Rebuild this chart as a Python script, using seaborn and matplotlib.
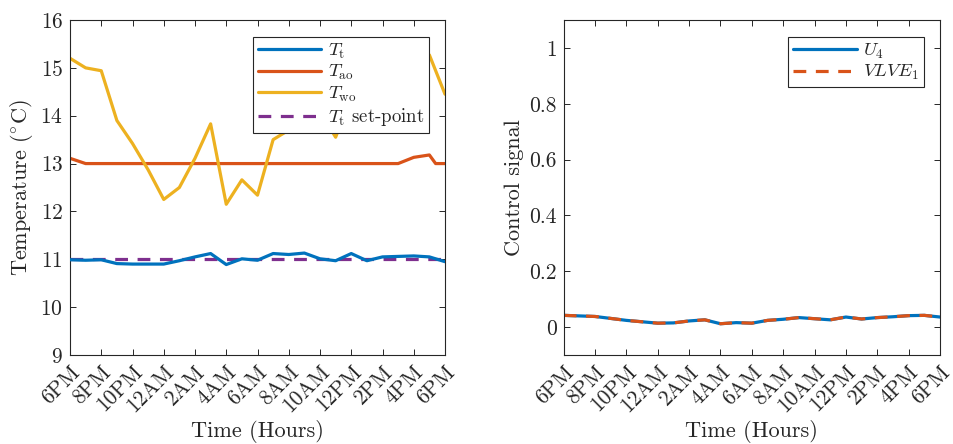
import numpy as np
import pandas as pd
import matplotlib
matplotlib.use("Agg")
import matplotlib.pyplot as plt
import seaborn as sns

# ---------------- data ----------------
hours = list(range(25))
tick_hours = list(range(0, 25, 2))
tick_labels = ["6PM", "8PM", "10PM", "12AM", "2AM", "4AM", "6AM", "8AM",
               "10AM", "12PM", "2PM", "4PM", "6PM"]

T_t = [10.99, 10.98, 10.99, 10.91, 10.90, 10.90, 10.90, 10.97, 11.05, 11.12,
       10.89, 11.01, 10.98, 11.12, 11.10, 11.13, 11.01, 10.97, 11.12, 10.97,
       11.05, 11.06, 11.07, 11.05, 10.95]

T_ao_hours = [0, 1, 2, 4, 8, 12, 16, 20, 21, 22, 23, 23.4, 24]
T_ao = [13.11, 13.0, 13.0, 13.0, 13.0, 13.0, 13.0, 13.0, 13.0, 13.13, 13.18, 13.0, 13.0]

T_wo = [15.20, 15.00, 14.94, 13.90, 13.42, 12.87, 12.25, 12.50, 13.11, 13.83,
        12.15, 12.66, 12.34, 13.50, 13.70, 14.00, 14.10, 13.55, 14.40, 14.80,
        15.00, 15.20, 15.10, 15.27, 14.45]

setpoint_hours = [0, 24]
T_setpoint = [11.0, 11.0]

U4 = [0.042, 0.040, 0.038, 0.031, 0.024, 0.019, 0.014, 0.015, 0.022, 0.026,
      0.012, 0.016, 0.014, 0.024, 0.028, 0.034, 0.030, 0.026, 0.036, 0.029,
      0.034, 0.037, 0.041, 0.042, 0.036]
VLVE1 = list(U4)

# ---------------- style ----------------
sns.set_style("ticks")
plt.rcParams["font.family"] = ["serif"]
plt.rcParams["font.serif"] = ["cmr10", "DejaVu Serif"]
plt.rcParams["mathtext.fontset"] = "cm"
plt.rcParams["axes.formatter.use_mathtext"] = True
plt.rcParams["axes.unicode_minus"] = False

blue = "#0072BD"
orange = "#D95319"
yellow = "#EDB120"
purple = "#7E2F8E"
axcol = "#262626"
lw = 2.3

fig = plt.figure(figsize=(9.54, 4.44), dpi=100)
ax1 = fig.add_axes([70 / 954, 89 / 444, 375 / 954, 335 / 444])
ax2 = fig.add_axes([563.7 / 954, 89 / 444, 376.3 / 954, 335 / 444])

df_t = pd.DataFrame({"h": hours, "T_t": T_t, "T_wo": T_wo})
df_ao = pd.DataFrame({"h": T_ao_hours, "T_ao": T_ao})
df_sp = pd.DataFrame({"h": setpoint_hours, "sp": T_setpoint})

sns.lineplot(data=df_t, x="h", y="T_t", ax=ax1, color=blue, lw=lw,
             label=r"$T_\mathrm{t}$", zorder=3)
sns.lineplot(data=df_ao, x="h", y="T_ao", ax=ax1, color=orange, lw=lw,
             label=r"$T_\mathrm{ao}$", zorder=2)
sns.lineplot(data=df_t, x="h", y="T_wo", ax=ax1, color=yellow, lw=lw,
             label=r"$T_\mathrm{wo}$", zorder=2)
sns.lineplot(data=df_sp, x="h", y="sp", ax=ax1, color=purple, lw=lw,
             linestyle=(0, (4, 3)), label=r"$T_\mathrm{t}$ set-point", zorder=2.5)

df_u = pd.DataFrame({"h": hours, "U4": U4, "V": VLVE1})
sns.lineplot(data=df_u, x="h", y="U4", ax=ax2, color=blue, lw=lw,
             label=r"$U_4$")
sns.lineplot(data=df_u, x="h", y="V", ax=ax2, color=orange, lw=lw,
             linestyle=(0, (4, 3)), label=r"$VLVE_1$")

for ax in (ax1, ax2):
    ax.set_xlim(0, 24)
    ax.set_xticks(tick_hours)
    ax.set_xticklabels(tick_labels, rotation=45, ha="right",
                       rotation_mode="anchor")
    ax.tick_params(direction="in", top=True, right=True, length=4,
                   width=0.7, labelsize=15.5, colors=axcol, pad=5)
    for s in ax.spines.values():
        s.set_visible(True)
        s.set_color(axcol)
        s.set_linewidth(0.8)
    ax.set_xlabel("Time (Hours)", fontsize=16, color=axcol, labelpad=3)
    leg = ax.legend(loc="upper right", bbox_to_anchor=(0.957, 0.949),
                    fontsize=13.5, frameon=True, fancybox=False,
                    handlelength=3.4, borderpad=0.25, labelspacing=0.12,
                    handletextpad=0.35, borderaxespad=0)
    leg.get_frame().set_edgecolor(axcol)
    leg.get_frame().set_linewidth(0.8)
    leg.get_frame().set_alpha(1)

ax1.set_ylim(9, 16)
ax1.set_yticks(range(9, 17))
ax1.set_ylabel(r"Temperature ($^{\circ}$C)", fontsize=16, color=axcol)

ax2.set_ylim(-0.1, 1.1)
ax2.set_yticks([0, 0.2, 0.4, 0.6, 0.8, 1])
ax2.set_yticklabels(["0", "0.2", "0.4", "0.6", "0.8", "1"])
ax2.set_ylabel("Control signal", fontsize=16, color=axcol)

fig.savefig("out.png", dpi=100)
